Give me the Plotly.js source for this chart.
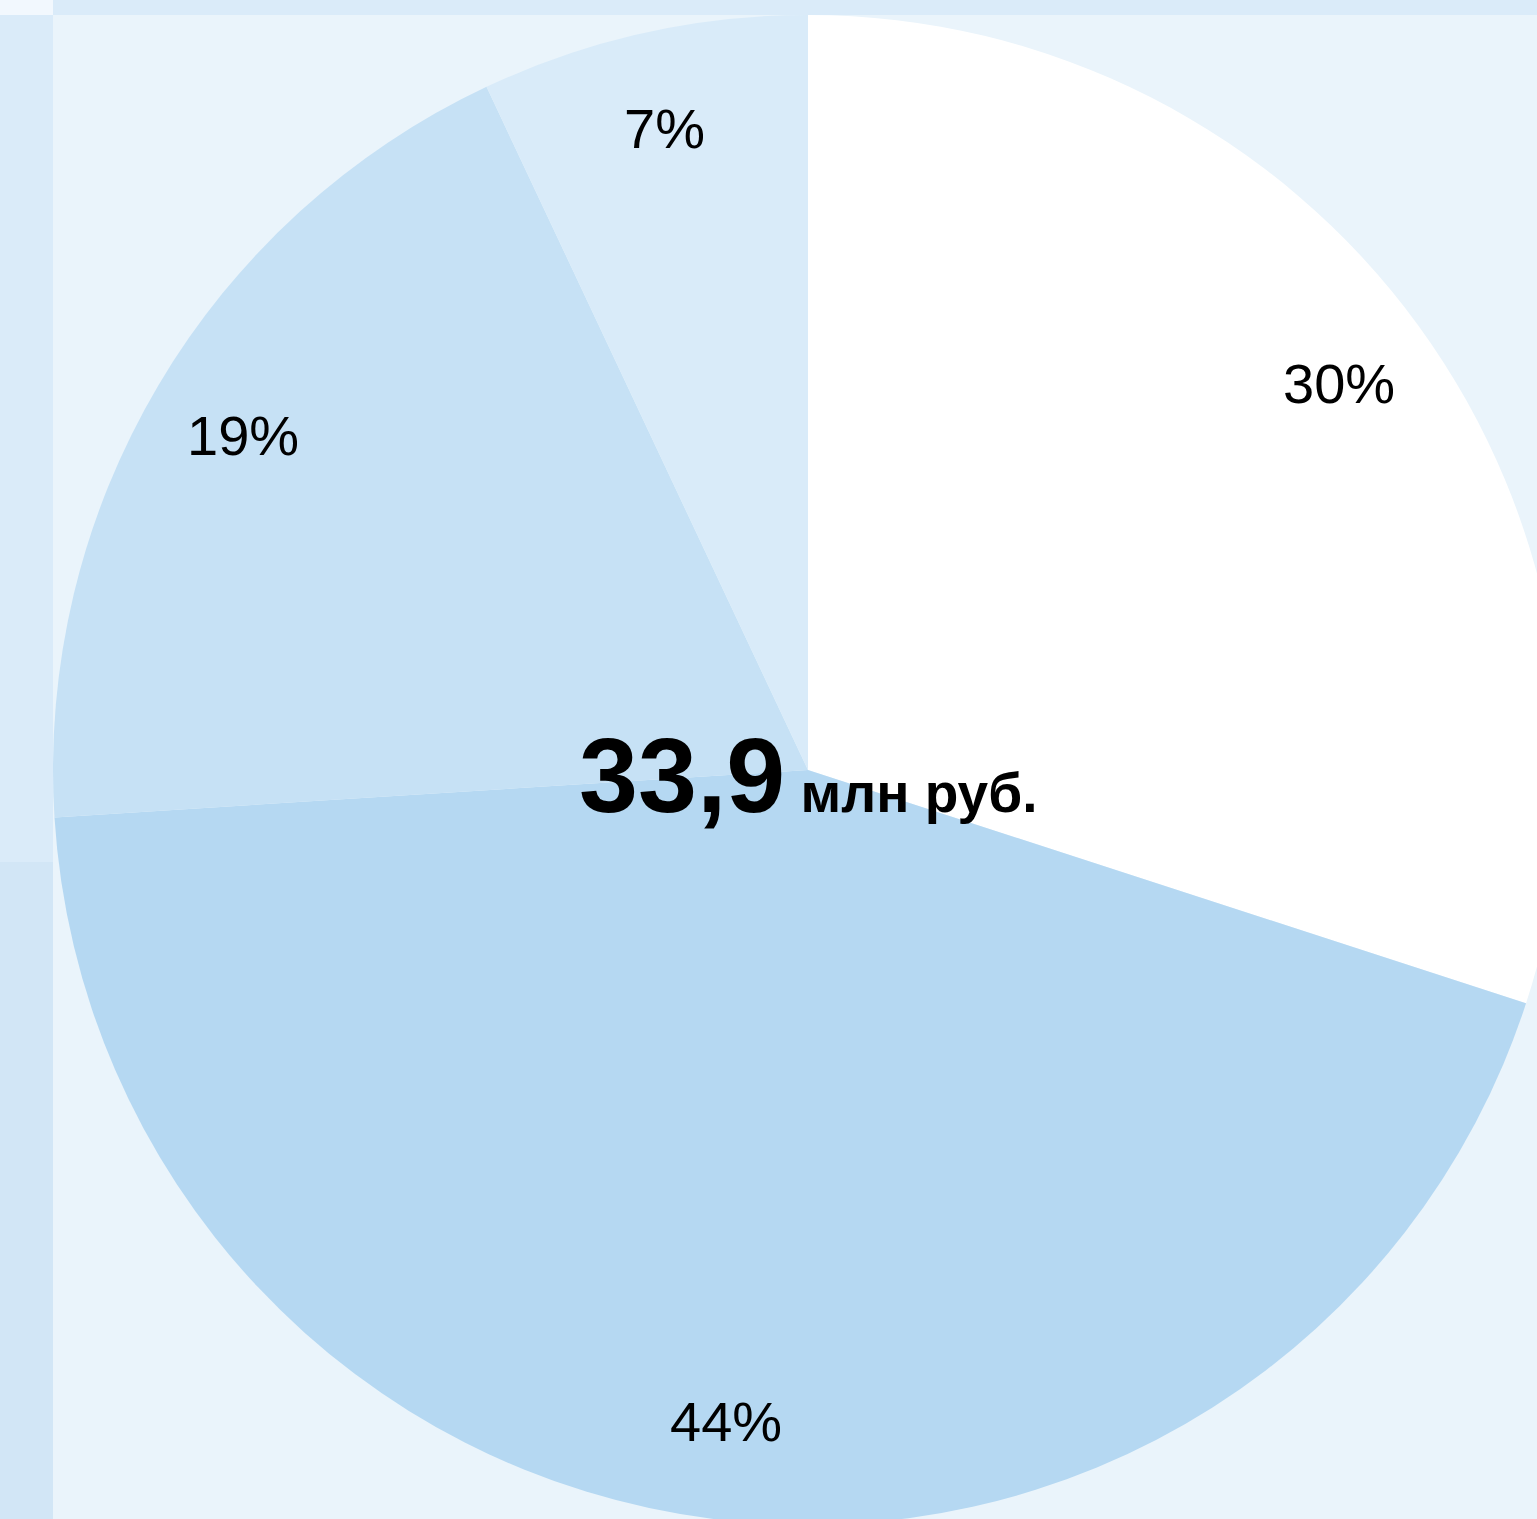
<!DOCTYPE html>
<html>
<head>
<meta charset="utf-8">
<script src="https://cdn.plot.ly/plotly-3.0.1.min.js"></script>
<style>
html,body{margin:0;padding:0;overflow:hidden;background:#EAF4FB;}
#chart{width:1620px;height:1560px;}
</style>
</head>
<body>
<div id="chart"></div>
<script>
// Data
const sliceNames = ["A", "B", "C", "D"];
const sliceValues = [30, 44, 19, 7];
const sliceColors = ["#FFFFFF", "#B5D8F2", "#C6E1F5", "#D9EBF9"];
const totalValue = "33,9";
const totalUnit = "млн руб.";

const W = 1620, H = 1560;
const cx = 808, cy = 770, R = 755;
const px = v => v / W;
const py = v => 1 - v / H;

const trace = {
  type: "pie",
  labels: sliceNames,
  values: sliceValues,
  sort: false,
  direction: "clockwise",
  rotation: 0,
  textinfo: "none",
  hoverinfo: "none",
  showlegend: false,
  marker: {colors: sliceColors, line: {width: 0}},
  domain: {x: [px(cx - R), px(cx + R)], y: [py(cy + R), py(cy - R)]}
};

// Percent labels placed at slice mid-angles (derived from the data)
const total = sliceValues.reduce((a, b) => a + b, 0);
const annotations = [];
let cum = 0;
const lr = 0.87 * R;
sliceValues.forEach(v => {
  const mid = (cum + v / 2) / total * 2 * Math.PI;
  cum += v;
  const x = cx + lr * Math.sin(mid);
  const y = cy - lr * Math.cos(mid);
  annotations.push({
    xref: "paper", yref: "paper", x: px(x), y: py(y),
    xanchor: "center", yanchor: "middle", showarrow: false,
    text: Math.round(v / total * 100) + "%",
    font: {family: "Liberation Sans, Arial, sans-serif", size: 56, color: "#000"}
  });
});
annotations.push({
  xref: "paper", yref: "paper", x: px(cx), y: py(775),
  xanchor: "center", yanchor: "middle", showarrow: false,
  text: "<b><span style='font-size:106px'>" + totalValue + "</span> <span style='font-size:55px'>" + totalUnit + "</span></b>",
  font: {family: "Liberation Sans, Arial, sans-serif", size: 55, color: "#000"}
});

const rect = (x0, y0, x1, y1, c) => ({
  type: "rect", xref: "paper", yref: "paper", layer: "below",
  x0: px(x0), x1: px(x1), y0: py(y1), y1: py(y0),
  fillcolor: c, line: {width: 0}
});

const layout = {
  width: W, height: H,
  margin: {l: 0, r: 0, t: 0, b: 0},
  paper_bgcolor: "#EAF4FB",
  plot_bgcolor: "#EAF4FB",
  shapes: [
    rect(53, 0, W, 15, "#DAEBF9"),
    rect(0, 0, 53, 15, "#F2F8FE"),
    rect(0, 15, 53, 862, "#DAEBF9"),
    rect(0, 862, 53, H, "#D2E6F6")
  ],
  annotations: annotations
};

Plotly.newPlot("chart", [trace], layout, {displayModeBar: false, staticPlot: true});
</script>
</body>
</html>
